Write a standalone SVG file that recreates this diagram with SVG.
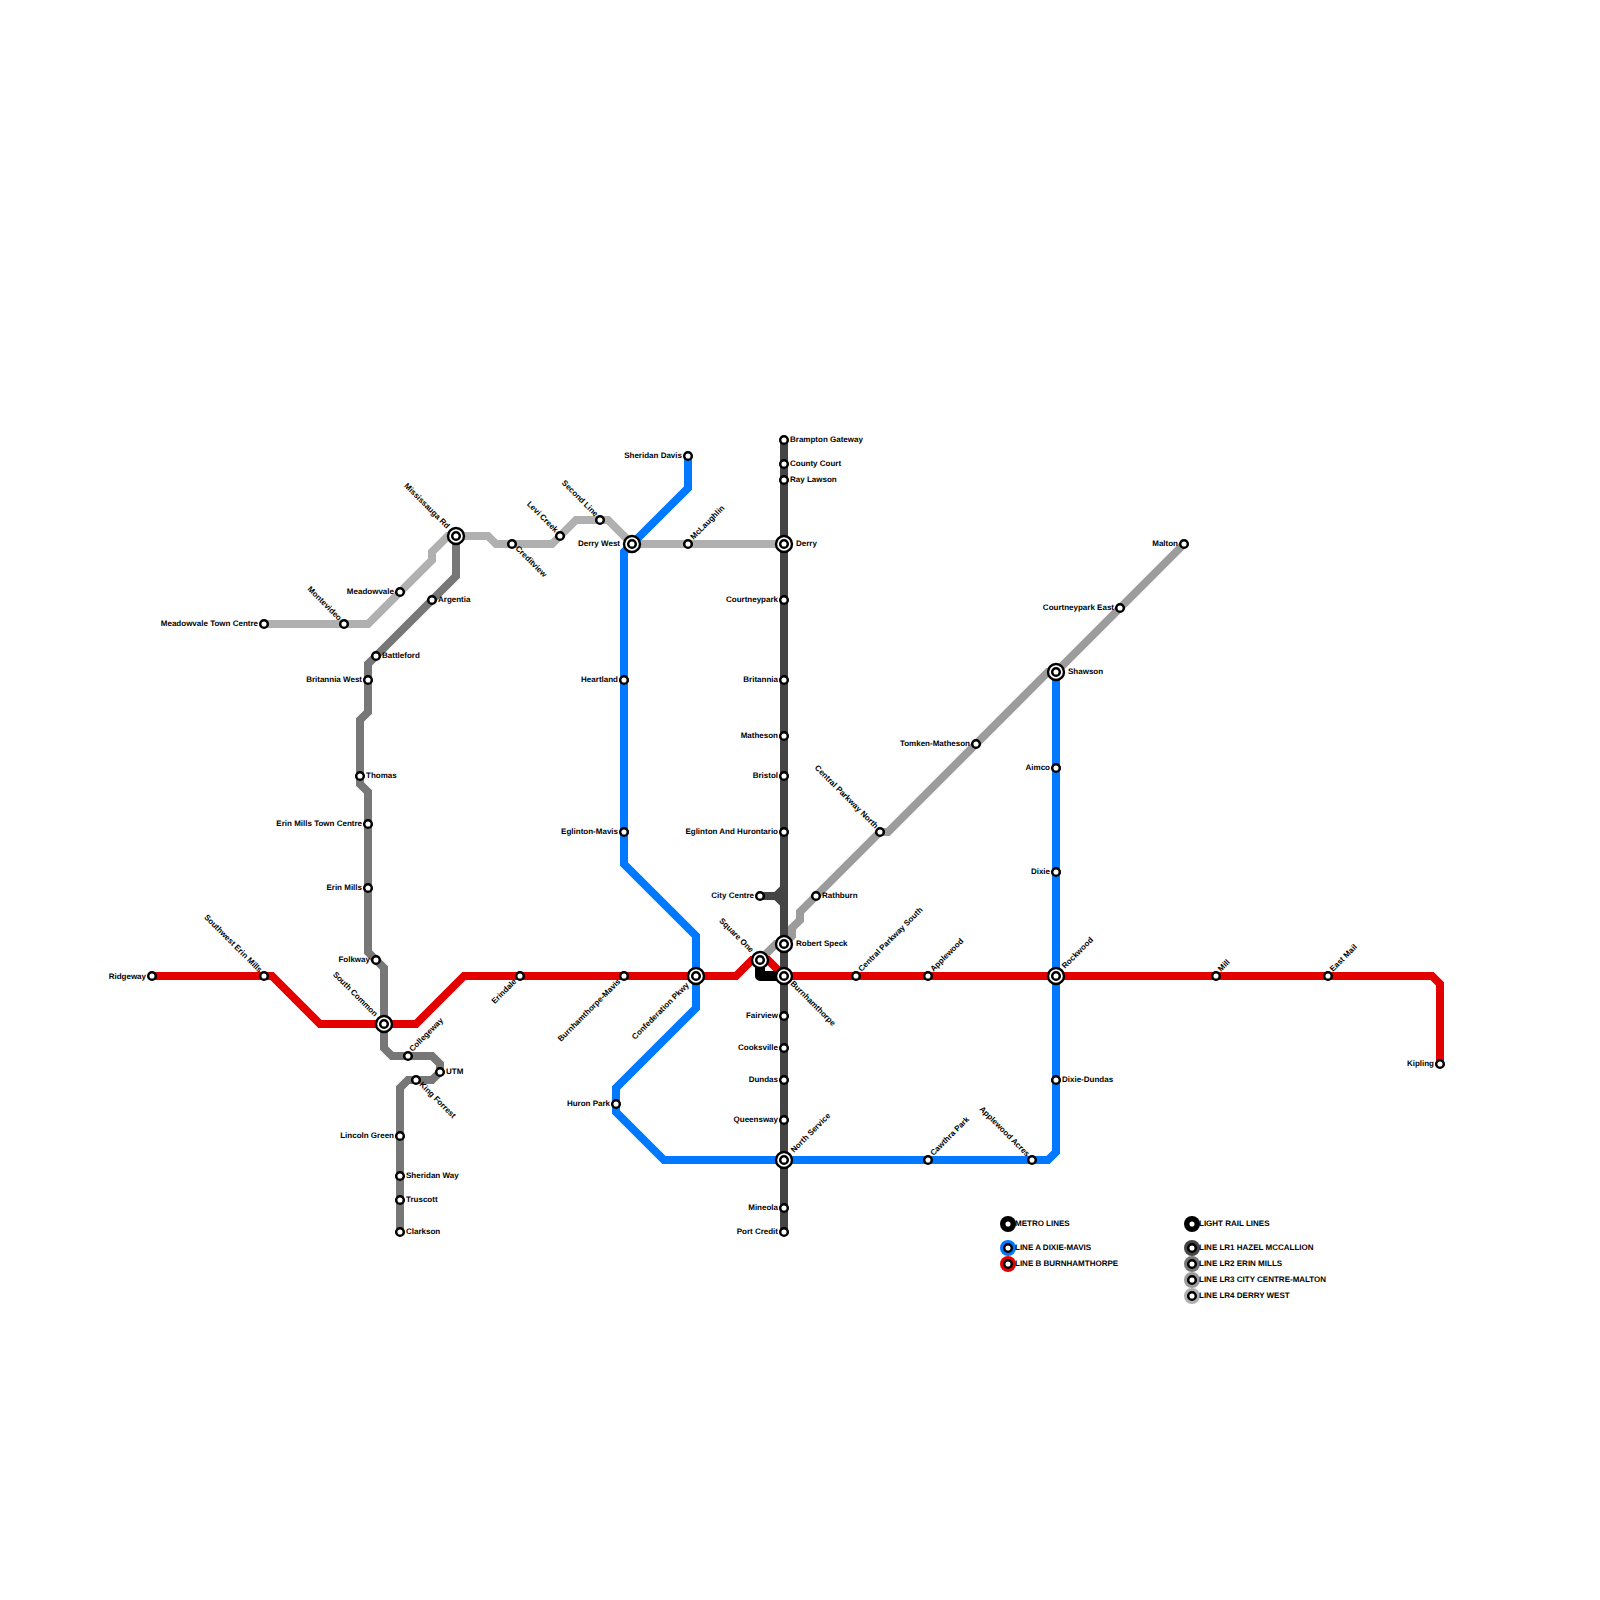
<svg xmlns="http://www.w3.org/2000/svg" width="1600" height="1600" viewBox="0 0 1600 1600">
<style>
text{font-family:"Liberation Sans",Arial,sans-serif;font-size:8px;font-weight:bold;fill:#000;text-rendering:geometricPrecision}
.e{text-anchor:end}
.l{fill:none;stroke-width:8;stroke-linejoin:miter}
.a{stroke:#0078ff}.b{stroke:#e30000}.r1{stroke:#444}.r2{stroke:#777}.r3{stroke:#9c9c9c}.r4{stroke:#b0b0b0}
.s{fill:#fff;stroke:#000;stroke-width:2.5}
.o{fill:#fff;stroke:#000;stroke-width:2.4}
</style>
<defs>
<circle id="st" class="s" r="3.8"/>
<g id="ic"><circle class="o" r="8"/><circle class="s" r="3.8"/></g>
</defs>
<rect width="1600" height="1600" fill="#fff"/>
<g id="connectors">
<path class="l r4" d="M264 624H368L432 560V552L448 536H488L496 544H552L576 520H608L632 544H784"/>
<path class="l r3" d="M760 960L776 944H784L792 936V928L800 920V912L880 832H888L1048 672H1056L1184 544"/>
<path class="l r2" d="M456 536V576L376 656L368 664V712L360 720V784L368 792V952L384 968V1048L392 1056H432L440 1064V1072L432 1080H408L400 1088V1232"/>
<path class="l a" d="M688 456V488L624 552V864L696 936V1008L616 1088V1112L664 1160H1048L1056 1152V672"/>
<path class="l b" d="M152 976H272L320 1024H416L464 976H736L752 960H768L784 976H1432L1440 984V1064"/>
<path class="l r1" d="M784 440V1232M760 896H776L784 888M776 896L784 904"/>
<path fill="none" stroke="#000" stroke-width="10" stroke-linejoin="round" stroke-linecap="round" d="M760 960V976H784"/>
</g>
<g id="n-ridgeway"><use href="#st" x="152" y="976"/><text class="e" x="146" y="978.5">Ridgeway</text></g>
<g id="n-southwest-erin-mills"><use href="#st" x="264" y="976"/><text class="e" transform="translate(259 973) rotate(45)">Southwest Erin Mills</text></g>
<g id="n-south-common"><use href="#ic" x="384" y="1024"/><text class="e" transform="translate(374.500 1017) rotate(45)">South Common</text></g>
<g id="n-erindale"><use href="#st" x="520" y="976"/><text class="e" transform="translate(517 982) rotate(-45)">Erindale</text></g>
<g id="n-burnhamthorpe-mavis"><use href="#st" x="624" y="976"/><text class="e" transform="translate(621 982) rotate(-45)">Burnhamthorpe-Mavis</text></g>
<g id="n-confederation"><use href="#ic" x="696" y="976"/><text class="e" transform="translate(689.500 985.500) rotate(-45)">Confederation Pkwy</text></g>
<g id="n-square-one"><use href="#ic" x="760" y="960"/><text class="e" transform="translate(750.500 953) rotate(45)">Square One</text></g>
<g id="n-burnhamthorpe"><use href="#ic" x="784" y="976"/><text transform="translate(790 984) rotate(45)">Burnhamthorpe</text></g>
<g id="n-central-parkway-south"><use href="#st" x="856" y="976"/><text transform="translate(861.500 972) rotate(-45)">Central Parkway South</text></g>
<g id="n-applewood"><use href="#st" x="928" y="976"/><text transform="translate(933.500 972) rotate(-45)">Applewood</text></g>
<g id="n-rockwood"><use href="#ic" x="1056" y="976"/><text transform="translate(1065 969) rotate(-45)">Rockwood</text></g>
<g id="n-mill"><use href="#st" x="1216" y="976"/><text transform="translate(1221 972) rotate(-45)">Mill</text></g>
<g id="n-east-mail"><use href="#st" x="1328" y="976"/><text transform="translate(1333 972) rotate(-45)">East Mail</text></g>
<g id="n-kipling"><use href="#st" x="1440" y="1064"/><text class="e" x="1434" y="1066">Kipling</text></g>
<g id="n-sheridan-davis"><use href="#st" x="688" y="456"/><text class="e" x="682" y="458">Sheridan Davis</text></g>
<g id="n-derry-west"><use href="#ic" x="632" y="544"/><text class="e" x="620" y="546">Derry West</text></g>
<g id="n-heartland"><use href="#st" x="624" y="680"/><text class="e" x="618" y="682">Heartland</text></g>
<g id="n-eglinton-mavis"><use href="#st" x="624" y="832"/><text class="e" x="618" y="834">Eglinton-Mavis</text></g>
<g id="n-huron-park"><use href="#st" x="616" y="1104"/><text class="e" x="610" y="1106">Huron Park</text></g>
<g id="n-north-service"><use href="#ic" x="784" y="1160"/><text transform="translate(794 1153) rotate(-45)">North Service</text></g>
<g id="n-cawthra-park"><use href="#st" x="928" y="1160"/><text transform="translate(933.500 1156) rotate(-45)">Cawthra Park</text></g>
<g id="n-applewood-acres"><use href="#st" x="1032" y="1160"/><text class="e" transform="translate(1026.500 1157) rotate(45)">Applewood Acres</text></g>
<g id="n-dixie-dundas"><use href="#st" x="1056" y="1080"/><text x="1062" y="1082">Dixie-Dundas</text></g>
<g id="n-dixie"><use href="#st" x="1056" y="872"/><text class="e" x="1050" y="874">Dixie</text></g>
<g id="n-aimco"><use href="#st" x="1056" y="768"/><text class="e" x="1050" y="770">Aimco</text></g>
<g id="n-shawson"><use href="#ic" x="1056" y="672"/><text x="1068" y="674">Shawson</text></g>
<g id="n-brampton-gateway"><use href="#st" x="784" y="440"/><text x="790" y="442">Brampton Gateway</text></g>
<g id="n-county-court"><use href="#st" x="784" y="464"/><text x="790" y="466">County Court</text></g>
<g id="n-ray-lawson"><use href="#st" x="784" y="480"/><text x="790" y="482">Ray Lawson</text></g>
<g id="n-derry"><use href="#ic" x="784" y="544"/><text x="796" y="546">Derry</text></g>
<g id="n-courtneypark"><use href="#st" x="784" y="600"/><text class="e" x="778" y="602">Courtneypark</text></g>
<g id="n-britannia"><use href="#st" x="784" y="680"/><text class="e" x="778" y="682">Britannia</text></g>
<g id="n-matheson"><use href="#st" x="784" y="736"/><text class="e" x="778" y="738">Matheson</text></g>
<g id="n-bristol"><use href="#st" x="784" y="776"/><text class="e" x="778" y="778">Bristol</text></g>
<g id="n-eglinton-hurontario"><use href="#st" x="784" y="832"/><text class="e" x="778" y="834">Eglinton And Hurontario</text></g>
<g id="n-city-centre"><use href="#st" x="760" y="896"/><text class="e" x="754" y="898">City Centre</text></g>
<g id="n-robert-speck"><use href="#ic" x="784" y="944"/><text x="796" y="946">Robert Speck</text></g>
<g id="n-fairview"><use href="#st" x="784" y="1016"/><text class="e" x="778" y="1018">Fairview</text></g>
<g id="n-cooksville"><use href="#st" x="784" y="1048"/><text class="e" x="778" y="1050">Cooksville</text></g>
<g id="n-dundas"><use href="#st" x="784" y="1080"/><text class="e" x="778" y="1082">Dundas</text></g>
<g id="n-queensway"><use href="#st" x="784" y="1120"/><text class="e" x="778" y="1122">Queensway</text></g>
<g id="n-mineola"><use href="#st" x="784" y="1208"/><text class="e" x="778" y="1210">Mineola</text></g>
<g id="n-port-credit"><use href="#st" x="784" y="1232"/><text class="e" x="778" y="1234">Port Credit</text></g>
<g id="n-rathburn"><use href="#st" x="816" y="896"/><text x="822" y="898">Rathburn</text></g>
<g id="n-central-parkway-north"><use href="#st" x="880" y="832"/><text class="e" transform="translate(875 829) rotate(45)">Central Parkway North</text></g>
<g id="n-tomken-matheson"><use href="#st" x="976" y="744"/><text class="e" x="970" y="746">Tomken-Matheson</text></g>
<g id="n-courtneypark-east"><use href="#st" x="1120" y="608"/><text class="e" x="1114" y="610">Courtneypark East</text></g>
<g id="n-malton"><use href="#st" x="1184" y="544"/><text class="e" x="1178" y="546">Malton</text></g>
<g id="n-meadowvale-town-centre"><use href="#st" x="264" y="624"/><text class="e" x="258" y="626">Meadowvale Town Centre</text></g>
<g id="n-montevideo"><use href="#st" x="344" y="624"/><text class="e" transform="translate(338.500 621) rotate(45)">Montevideo</text></g>
<g id="n-meadowvale"><use href="#st" x="400" y="592"/><text class="e" x="394" y="594">Meadowvale</text></g>
<g id="n-mississauga-rd"><use href="#ic" x="456" y="536"/><text class="e" transform="translate(446.500 529) rotate(45)">Mississauga Rd</text></g>
<g id="n-creditview"><use href="#st" x="512" y="544"/><text transform="translate(515 549) rotate(45)">Creditview</text></g>
<g id="n-levi-creek"><use href="#st" x="560" y="536"/><text class="e" transform="translate(555 533) rotate(45)">Levi Creek</text></g>
<g id="n-second-line"><use href="#st" x="600" y="520"/><text class="e" transform="translate(595 517) rotate(45)">Second Line</text></g>
<g id="n-mclaughlin"><use href="#st" x="688" y="544"/><text transform="translate(693.500 540) rotate(-45)">McLaughlin</text></g>
<g id="n-argentia"><use href="#st" x="432" y="600"/><text x="438" y="602">Argentia</text></g>
<g id="n-battleford"><use href="#st" x="376" y="656"/><text x="382" y="658">Battleford</text></g>
<g id="n-britannia-west"><use href="#st" x="368" y="680"/><text class="e" x="362" y="682">Britannia West</text></g>
<g id="n-thomas"><use href="#st" x="360" y="776"/><text x="366" y="778">Thomas</text></g>
<g id="n-erin-mills-town-centre"><use href="#st" x="368" y="824"/><text class="e" x="362" y="826">Erin Mills Town Centre</text></g>
<g id="n-erin-mills"><use href="#st" x="368" y="888"/><text class="e" x="362" y="890">Erin Mills</text></g>
<g id="n-folkway"><use href="#st" x="376" y="960"/><text class="e" x="370" y="962">Folkway</text></g>
<g id="n-collegeway"><use href="#st" x="408" y="1056"/><text transform="translate(412.500 1052) rotate(-45)">Collegeway</text></g>
<g id="n-utm"><use href="#st" x="440" y="1072"/><text x="446" y="1074">UTM</text></g>
<g id="n-king-forrest"><use href="#st" x="416" y="1080"/><text transform="translate(419 1085) rotate(45)">King Forrest</text></g>
<g id="n-lincoln-green"><use href="#st" x="400" y="1136"/><text class="e" x="394" y="1138">Lincoln Green</text></g>
<g id="n-sheridan-way"><use href="#st" x="400" y="1176"/><text x="406" y="1178">Sheridan Way</text></g>
<g id="n-truscott"><use href="#st" x="400" y="1200"/><text x="406" y="1202">Truscott</text></g>
<g id="n-clarkson"><use href="#st" x="400" y="1232"/><text x="406" y="1234">Clarkson</text></g>
<g id="legend">
<circle cx="1008" cy="1224" r="8" fill="#000"/><use href="#st" x="1008" y="1224"/><text x="1015" y="1226">METRO LINES</text>
<circle cx="1008" cy="1248" r="8" fill="#0078ff"/><use href="#st" x="1008" y="1248"/><text x="1015" y="1250">LINE A DIXIE-MAVIS</text>
<circle cx="1008" cy="1264" r="8" fill="#e30000"/><use href="#st" x="1008" y="1264"/><text x="1015" y="1266">LINE B BURNHAMTHORPE</text>
<circle cx="1192" cy="1224" r="8" fill="#000"/><use href="#st" x="1192" y="1224"/><text x="1199" y="1226">LIGHT RAIL LINES</text>
<circle cx="1192" cy="1248" r="8" fill="#444"/><use href="#st" x="1192" y="1248"/><text x="1199" y="1250">LINE LR1 HAZEL MCCALLION</text>
<circle cx="1192" cy="1264" r="8" fill="#777"/><use href="#st" x="1192" y="1264"/><text x="1199" y="1266">LINE LR2 ERIN MILLS</text>
<circle cx="1192" cy="1280" r="8" fill="#9c9c9c"/><use href="#st" x="1192" y="1280"/><text x="1199" y="1282">LINE LR3 CITY CENTRE-MALTON</text>
<circle cx="1192" cy="1296" r="8" fill="#b0b0b0"/><use href="#st" x="1192" y="1296"/><text x="1199" y="1298">LINE LR4 DERRY WEST</text>
</g>
</svg>
